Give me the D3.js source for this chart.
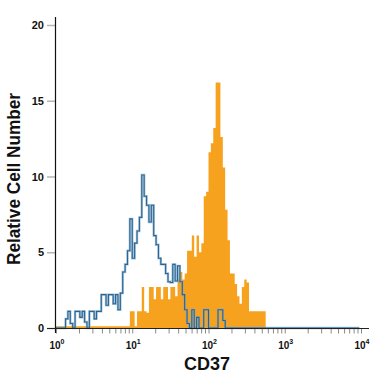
<!DOCTYPE html>
<html>
<head>
<meta charset="utf-8">
<script src="https://cdn.jsdelivr.net/npm/d3@7"></script>
<style>
  body { margin: 0; background: #fff; }
  svg text { font-family: "Liberation Sans", Arial, sans-serif; }
</style>
</head>
<body>
<script>
// histogram bins: 32 per decade, bin k spans 10^(k/32) .. 10^((k+1)/32)
const binsPerDecade = 32;

// isotype control (blue outline), bins k0..k71
const isotypeCounts = [
  0, 0, 0, 0, 0.6, 1.1, 0.3, 0, 1.1, 1.1,
  0.7, 1.1, 0.4, 0, 1.1, 1.1, 0.6, 1.1, 1.1, 2.2,
  2.2, 1.5, 2.2, 2.2, 1.6, 2.2, 1.2, 2.3, 3.7, 4.2,
  5.1, 7.2, 4.6, 5.6, 6.4, 7.3, 10.1, 8.7, 8.1, 7.0,
  8.1, 6.1, 5.5, 4.6, 4.2, 4.2, 3.6, 3.05, 3.0, 4.2,
  3.1, 4.1, 3.05, 2.2, 1.2, 0.3, 0, 1.2, 0, 0.7,
  0, 0, 1.2, 1.2, 0, 0, 0, 0, 1.2, 1.2,
  0.5, 0
];
const isotypeEnd = 9500;   // blue baseline runs out to here

// CD37 stained (orange filled), bins k0..k88
const cd37Counts = [
  0.12, 0.12, 0.12, 0.12, 0.12, 0.12, 0.12, 0.12, 0.12, 0.12,
  0.12, 0.12, 0.12, 0.12, 0.12, 0.12, 0.12, 0.12, 0.12, 0.12,
  0.12, 0.12, 0.12, 0.12, 0.12, 0.12, 0.12, 0.12, 0.12, 0.12,
  0.12, 1.1, 1.1, 0.12, 1.1, 1.1, 2.7, 1.1, 1.0, 2.7,
  2.7, 1.9, 2.7, 2.7, 1.9, 2.7, 2.7, 1.9, 2.7, 2.7,
  2.1, 3.2, 3.7, 3.2, 3.6, 5.1, 5.1, 6.1, 4.7, 6.1,
  5.0, 5.6, 8.7, 9.0, 11.6, 12.2, 13.2, 16.2, 16.2, 12.6,
  10.6, 7.8, 5.8, 3.6, 3.6, 2.9, 2.1, 1.6, 2.7, 3.2,
  3.0, 1.1, 1.1, 1.1, 1.1, 1.1, 1.1, 1.1, 0
];

const yTicks = [0, 5, 10, 15, 20];
const decades = [1, 10, 100, 1000, 10000];
const xTitle = "CD37";
const yTitle = "Relative Cell Number";

const width = 375, height = 375;

let svg = d3.select('body').append('svg')
    .attr('width', width)
    .attr('height', height);

let x = d3.scaleLog().domain([1, 10000]).range([56, 361]);
let y = d3.scaleLinear().domain([0, 20]).range([328, 25]);

const edge = k => Math.pow(10, k / binsPerDecade);

// step points
let cd37Pts = cd37Counts.map((v, k) => [edge(k), v]);
cd37Pts.push([edge(cd37Counts.length), 0]);
let isoPts = isotypeCounts.map((v, k) => [edge(k), v]);
isoPts.push([isotypeEnd, 0]);

let area = d3.area().curve(d3.curveStepAfter)
    .x(d => x(d[0])).y0(y(0)).y1(d => y(d[1]));
let line = d3.line().curve(d3.curveStepAfter)
    .x(d => x(d[0])).y(d => y(d[1]));

svg.append('path').datum(cd37Pts)
    .attr('d', area)
    .attr('fill', '#f7a21e');

// light halo + dark line for the isotype trace
svg.append('path').datum(isoPts)
    .attr('d', line)
    .attr('fill', 'none')
    .attr('stroke', '#7fa9c9')
    .attr('stroke-width', 2.4)
    .attr('stroke-opacity', 0.7);
svg.append('path').datum(isoPts)
    .attr('d', line)
    .attr('fill', 'none')
    .attr('stroke', '#1d5a8a')
    .attr('stroke-width', 1.1)
    .attr('stroke-opacity', 0.9);

// y axis
let yAxis = svg.append('g')
    .attr('transform', 'translate(55,0)')
    .call(d3.axisLeft(y).tickValues(yTicks).tickSize(8).tickPadding(3));
yAxis.select('.domain').remove();
yAxis.selectAll('.tick line').attr('stroke', '#b5b5b5').attr('stroke-width', 1.5);
yAxis.selectAll('.tick text')
    .style('font-size', '11px')
    .style('font-weight', 'bold')
    .attr('fill', '#111');

svg.append('line')
    .attr('x1', 55.5).attr('x2', 55.5)
    .attr('y1', 17).attr('y2', 333)
    .attr('stroke', '#111').attr('stroke-width', 1.2);

// x axis
let minorTicks = [];
decades.slice(0, -1).forEach(d => { for (let m = 1; m < 10; m++) minorTicks.push(d * m); });
minorTicks.push(10000);

let xAxis = svg.append('g')
    .attr('transform', 'translate(0,328.5)')
    .call(d3.axisBottom(x).tickValues(minorTicks).tickSize(5).tickFormat(''));
xAxis.select('.domain').remove();
xAxis.selectAll('.tick line').attr('stroke', '#8a8a8a');

svg.append('line')
    .attr('x1', 47).attr('x2', 369)
    .attr('y1', 328.5).attr('y2', 328.5)
    .attr('stroke', '#222').attr('stroke-width', 1.2);

let xl = svg.append('g').selectAll('text').data(decades).join('text')
    .attr('x', d => x(d) + 1)
    .attr('y', 348.5)
    .attr('text-anchor', 'middle')
    .attr('fill', '#111')
    .style('font-size', '10px')
    .style('font-weight', 'bold');
xl.append('tspan').text('10');
xl.append('tspan')
    .attr('dy', -4.5)
    .style('font-size', '7px')
    .text((d, i) => i);

// titles
svg.append('text')
    .attr('x', 207).attr('y', 370)
    .attr('text-anchor', 'middle')
    .style('font-size', '18px')
    .style('font-weight', 'bold')
    .attr('fill', '#111')
    .text(xTitle);

svg.append('text')
    .attr('transform', 'translate(20,179) rotate(-90)')
    .attr('text-anchor', 'middle')
    .attr('textLength', 172)
    .attr('lengthAdjust', 'spacingAndGlyphs')
    .style('font-size', '18px')
    .style('font-weight', 'bold')
    .attr('fill', '#111')
    .text(yTitle);
</script>
</body>
</html>
